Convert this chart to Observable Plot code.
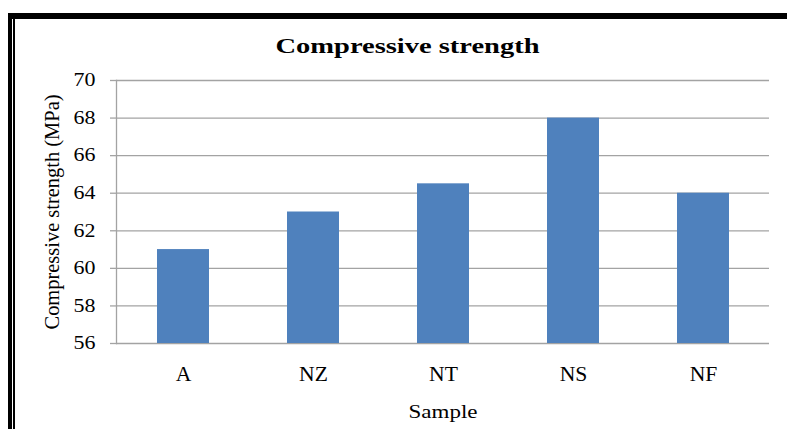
<!DOCTYPE html>
<html><head><meta charset="utf-8">
<script src="https://cdn.jsdelivr.net/npm/d3@7"></script>
<script src="https://cdn.jsdelivr.net/npm/@observablehq/plot@0.6"></script>
<style>
body{margin:0;background:#fff;}
#wrap{position:relative;width:787px;height:429px;overflow:hidden;background:#fff;}
#wrap svg{position:absolute;left:0;top:0;}
.b{position:absolute;background:#000;}
</style></head><body>
<div id="wrap"></div>
<script>
const samples = ["A", "NZ", "NT", "NS", "NF"];
const strengths = [61, 63, 64.5, 68, 64];
const yTicks = [56, 58, 60, 62, 64, 66, 68, 70];
const titleText = "Compressive strength";
const yLabelText = "Compressive strength (MPa)";
const xLabelText = "Sample";

const data = samples.map((s, i) => ({sample: s, value: strengths[i]}));
const serif = "'Liberation Serif','Times New Roman',serif";
const grid = "#a3a3a3";

const chart = Plot.plot({
  width: 787, height: 429,
  marginLeft: 116, marginRight: 18, marginTop: 80, marginBottom: 86,
  style: {fontFamily: serif, background: "transparent", color: "#000"},
  x: {domain: samples, paddingInner: 0.6, paddingOuter: 0.3},
  y: {domain: [56, 70]},
  marks: [
    Plot.gridY(yTicks, {stroke: grid, strokeOpacity: 1, strokeWidth: 1.3}),
    Plot.axisY(yTicks, {tickSize: 6, tickPadding: 15, stroke: grid, strokeOpacity: 1, strokeWidth: 1.3, fontSize: 18, fill: "#000", label: null}),
    Plot.axisX({tickSize: 0, tickPadding: 23, fontSize: 20, fill: "#000", label: null}),
    Plot.frame({anchor: "left", stroke: grid, strokeWidth: 1.3}),
    Plot.barY(data, {x: "sample", y1: 56, y2: "value", fill: "#4f81bd"}),
    Plot.text([titleText], {frameAnchor: "top", textAnchor: "middle", dx: -35.5, dy: -28, lineAnchor: "bottom", fontSize: 21, fontWeight: "bold", fill: "#000"}),
    Plot.text([yLabelText], {frameAnchor: "left", textAnchor: "middle", dx: -58, rotate: -90, lineAnchor: "bottom", fontSize: 20, fill: "#000"}),
    Plot.text([xLabelText], {frameAnchor: "bottom", textAnchor: "middle", dy: 74, lineAnchor: "bottom", fontSize: 18, fill: "#000"})
  ]
});
const wrap = document.getElementById("wrap");
wrap.appendChild(chart);

const targets = {};
targets[titleText] = 264;
targets[xLabelText] = 69;
targets[yLabelText] = 235;
chart.querySelectorAll("text").forEach(t => {
  const s = t.textContent;
  const l = t.getComputedTextLength();
  let len = null;
  if (targets[s] != null) len = targets[s];
  else if (samples.includes(s)) len = l * 1.08;
  else if (yTicks.map(String).includes(s)) len = l * 1.22;
  if (len != null && l > 0) {
    t.setAttribute("textLength", len);
    t.setAttribute("lengthAdjust", "spacingAndGlyphs");
  }
});

// frame border lines
[[8, 13, 779, 6], [8, 13, 4, 416], [13, 19, 2, 410]].forEach(([l, t, w, h]) => {
  const d = document.createElement("div");
  d.className = "b";
  d.style.left = l + "px"; d.style.top = t + "px";
  d.style.width = w + "px"; d.style.height = h + "px";
  wrap.appendChild(d);
});
</script>
</body></html>
